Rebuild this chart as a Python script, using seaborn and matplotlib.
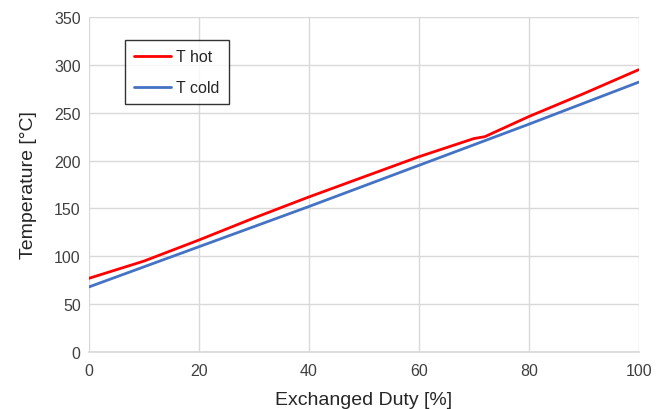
import matplotlib
matplotlib.use("Agg")
import matplotlib.pyplot as plt
import seaborn as sns
import pandas as pd

# Temperature profiles along the exchanged duty
duty_hot = [0, 5, 10, 20, 30, 40, 50, 60, 70, 71, 72, 80, 90, 100]
t_hot = [77, 86, 95, 117, 140, 162, 183, 204, 223, 224, 225, 246, 270, 295]
duty_cold = [0, 20, 40, 60, 80, 100]
t_cold = [68, 110, 152, 195, 238, 282]

x_ticks = [0, 20, 40, 60, 80, 100]
y_ticks = [0, 50, 100, 150, 200, 250, 300, 350]

sns.set_theme(style="whitegrid")
plt.rcParams["font.family"] = ["Liberation Sans", "DejaVu Sans"]

df = pd.concat([
    pd.DataFrame({"duty": duty_hot, "temp": t_hot, "series": "T hot"}),
    pd.DataFrame({"duty": duty_cold, "temp": t_cold, "series": "T cold"}),
])

fig = plt.figure(figsize=(6.64, 4.10), dpi=100)
ax = fig.add_axes([0.134, 0.139, 0.828, 0.817])
sns.lineplot(data=df, x="duty", y="temp", hue="series", sort=False,
             palette={"T hot": "#FF0000", "T cold": "#4472C4"},
             linewidth=2.0, ax=ax)

ax.set_xlim(0, 100)
ax.set_ylim(0, 350)
ax.set_xticks(x_ticks)
ax.set_yticks(y_ticks)
ax.tick_params(axis="both", labelsize=11.5, colors="#404040", length=0)
ax.tick_params(axis="y", pad=6)
ax.tick_params(axis="x", pad=8)
ax.set_xlabel("Exchanged Duty [%]", fontsize=14, color="#262626", labelpad=9)
ax.set_ylabel("Temperature [°C]", fontsize=14, color="#262626", labelpad=12)
ax.grid(True, color="#D9D9D9", linewidth=1)
for side in ["top", "right", "left"]:
    ax.spines[side].set_visible(False)
ax.spines["bottom"].set_color("#D9D9D9")

leg = ax.legend(loc="upper left", bbox_to_anchor=(0.066, 0.93), fontsize=11.5,
                frameon=True, fancybox=False, handlelength=2.3,
                handletextpad=0.35, labelspacing=1.0, borderpad=0.55,
                borderaxespad=0)
leg.get_frame().set_edgecolor("#000000")
leg.get_frame().set_linewidth(1)

fig.savefig("out.png", dpi=100, facecolor="white")
